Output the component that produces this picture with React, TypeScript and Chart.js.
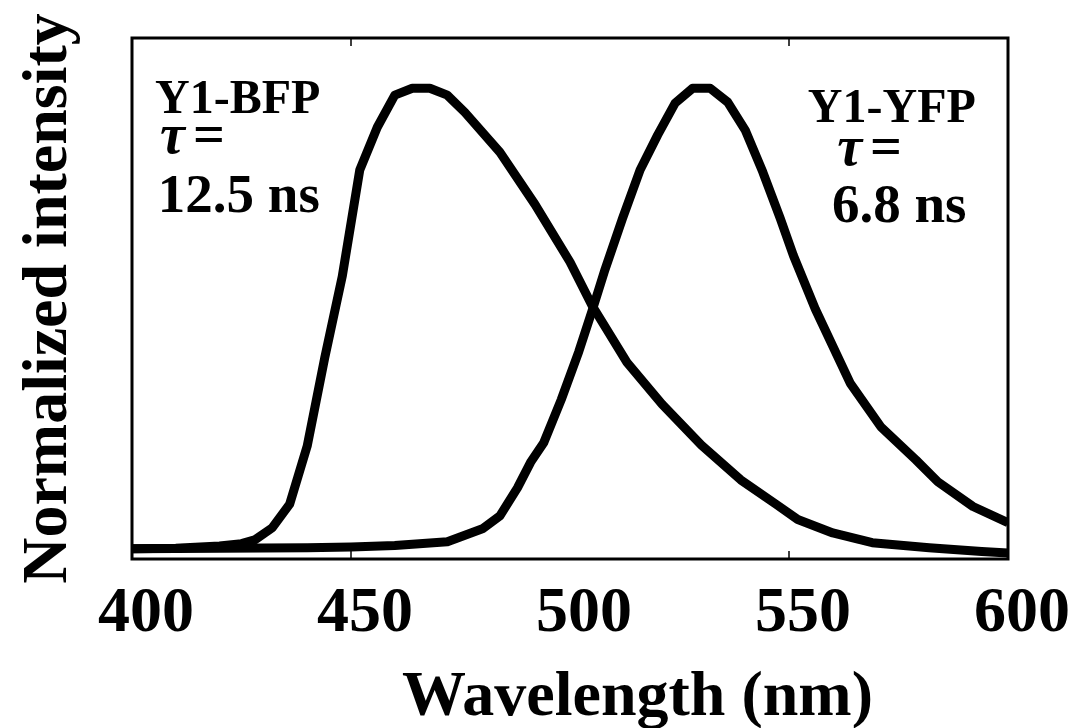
import React, { useEffect, useRef } from "react";
import { Chart, registerables } from "chart.js";

Chart.register(...registerables);

// ---- data ----
const BFP_WAVELENGTHS = [400, 410, 420, 425, 428, 432, 436, 440, 444, 448, 452, 456, 460, 464, 468, 472, 476, 484, 492, 500, 505, 513, 521, 530, 539, 547, 552, 560, 569, 582, 594, 600];
const BFP_INTENSITY = [0.009, 0.01, 0.015, 0.02, 0.028, 0.054, 0.105, 0.23, 0.42, 0.595, 0.824, 0.916, 0.985, 1.0, 1.0, 0.985, 0.948, 0.862, 0.75, 0.626, 0.533, 0.41, 0.32, 0.232, 0.157, 0.105, 0.072, 0.043, 0.022, 0.011, 0.003, 0.0];

const YFP_WAVELENGTHS = [400, 420, 440, 450, 460, 472, 480, 484, 488, 491, 494, 498, 502, 505, 508, 512, 516, 520, 524, 528, 532, 536, 540, 544, 548, 551, 556, 564, 571, 579, 584, 592, 600];
const YFP_INTENSITY = [0.009, 0.01, 0.011, 0.013, 0.016, 0.024, 0.052, 0.08, 0.14, 0.195, 0.237, 0.33, 0.433, 0.52, 0.61, 0.72, 0.824, 0.899, 0.968, 1.0, 1.0, 0.97, 0.91, 0.82, 0.72, 0.64, 0.525, 0.365, 0.271, 0.2, 0.153, 0.1, 0.065];

const X_MIN = 400;
const X_MAX = 600;
const X_STEP = 50;
const Y_MIN = -0.013;
const Y_MAX = 1.108;
const INNER_TICKS = [450, 550];

const X_TITLE = "Wavelength (nm)";
const Y_TITLE = "Normalized intensity";

// annotation texts, anchored in data units (wavelength, intensity)
const NOTE_TEXTS = ["Y1-BFP", "τ", "=", "12.5 ns", "Y1-YFP", "τ", "=", "6.8 ns"];
const NOTE_X = [405.25, 406.4, 413.9, 405.9, 554.3, 561.0, 568.5, 559.8];
const NOTE_Y = [0.9466, 0.8606, 0.8606, 0.7336, 0.9273, 0.8347, 0.8347, 0.7121];
const NOTE_SIZE = [48, 56, 56, 55, 48, 56, 56, 55];
const NOTE_ITALIC = [false, true, false, false, false, true, false, false];

const FONT = '"Liberation Serif", "Times New Roman", serif';

const framePlugin = {
  id: "frame",
  beforeDatasetsDraw(chart: any) {
    const { ctx, chartArea } = chart;
    const xs = chart.scales.x;
    ctx.save();
    ctx.strokeStyle = "#000";
    ctx.lineWidth = 3;
    ctx.strokeRect(chartArea.left, chartArea.top, chartArea.right - chartArea.left, chartArea.bottom - chartArea.top);
    ctx.lineWidth = 1.5;
    for (const v of INNER_TICKS) {
      const px = xs.getPixelForValue(v);
      ctx.beginPath();
      ctx.moveTo(px, chartArea.bottom);
      ctx.lineTo(px, chartArea.bottom - 8);
      ctx.moveTo(px, chartArea.top);
      ctx.lineTo(px, chartArea.top + 8);
      ctx.stroke();
    }
    ctx.restore();
  },
  afterDraw(chart: any) {
    const { ctx, chartArea } = chart;
    const xs = chart.scales.x;
    const ys = chart.scales.y;
    ctx.save();
    ctx.fillStyle = "#000";
    ctx.textBaseline = "alphabetic";
    ctx.textAlign = "left";
    NOTE_TEXTS.forEach((t, i) => {
      ctx.font = `${NOTE_ITALIC[i] ? "italic " : ""}bold ${NOTE_SIZE[i]}px ${FONT}`;
      ctx.fillText(t, xs.getPixelForValue(NOTE_X[i]), ys.getPixelForValue(NOTE_Y[i]));
    });
    // x-axis title
    ctx.font = `bold 64px ${FONT}`;
    ctx.textAlign = "center";
    ctx.fillText(X_TITLE, xs.getPixelForValue(515.4), chartArea.bottom + 156);
    ctx.restore();
  },
};

export default function App() {
  const ref = useRef<HTMLCanvasElement | null>(null);
  useEffect(() => {
    if (!ref.current) return;
    const chart = new Chart(ref.current, {
      type: "line",
      data: {
        datasets: [
          {
            label: "Y1-BFP",
            data: BFP_WAVELENGTHS.map((x, i) => ({ x, y: BFP_INTENSITY[i] })),
            borderColor: "#000",
            borderWidth: 9,
            pointRadius: 0,
            tension: 0,
            fill: false,
            borderJoinStyle: "round",
            borderCapStyle: "butt",
          },
          {
            label: "Y1-YFP",
            data: YFP_WAVELENGTHS.map((x, i) => ({ x, y: YFP_INTENSITY[i] })),
            borderColor: "#000",
            borderWidth: 9,
            pointRadius: 0,
            tension: 0,
            fill: false,
            borderJoinStyle: "round",
            borderCapStyle: "butt",
          },
        ],
      },
      options: {
        animation: false,
        responsive: true,
        maintainAspectRatio: false,
        layout: { padding: { top: 38, right: 68, left: 0, bottom: 0 } },
        plugins: { legend: { display: false }, tooltip: { enabled: false } },
        scales: {
          x: {
            type: "linear",
            min: X_MIN,
            max: X_MAX,
            grid: { display: false, drawTicks: false },
            border: { display: false },
            ticks: {
              stepSize: X_STEP,
              color: "#000",
              font: { family: FONT, size: 64, weight: "bold" },
              padding: 17,
              labelOffset: 14,
              maxRotation: 0,
              autoSkip: false,
            },
            afterFit: (s: any) => {
              s.height = 169;
              s.paddingLeft = 0;
              s.paddingRight = 0;
            },
          },
          y: {
            type: "linear",
            min: Y_MIN,
            max: Y_MAX,
            grid: { display: false, drawTicks: false },
            border: { display: false },
            ticks: { display: false },
            title: {
              display: true,
              text: Y_TITLE,
              color: "#000",
              font: { family: FONT, size: 64, weight: "bold" },
              padding: { top: 11, bottom: 0 },
            },
            afterFit: (s: any) => {
              s.width = 132;
              s.paddingTop = 0;
              s.paddingBottom = 0;
            },
          },
        },
      },
      plugins: [framePlugin],
    });
    return () => chart.destroy();
  }, []);
  return (
    <div style={{ position: "absolute", left: 0, top: 0, width: 1076, height: 728, background: "#fff" }}>
      <canvas ref={ref} />
    </div>
  );
}
